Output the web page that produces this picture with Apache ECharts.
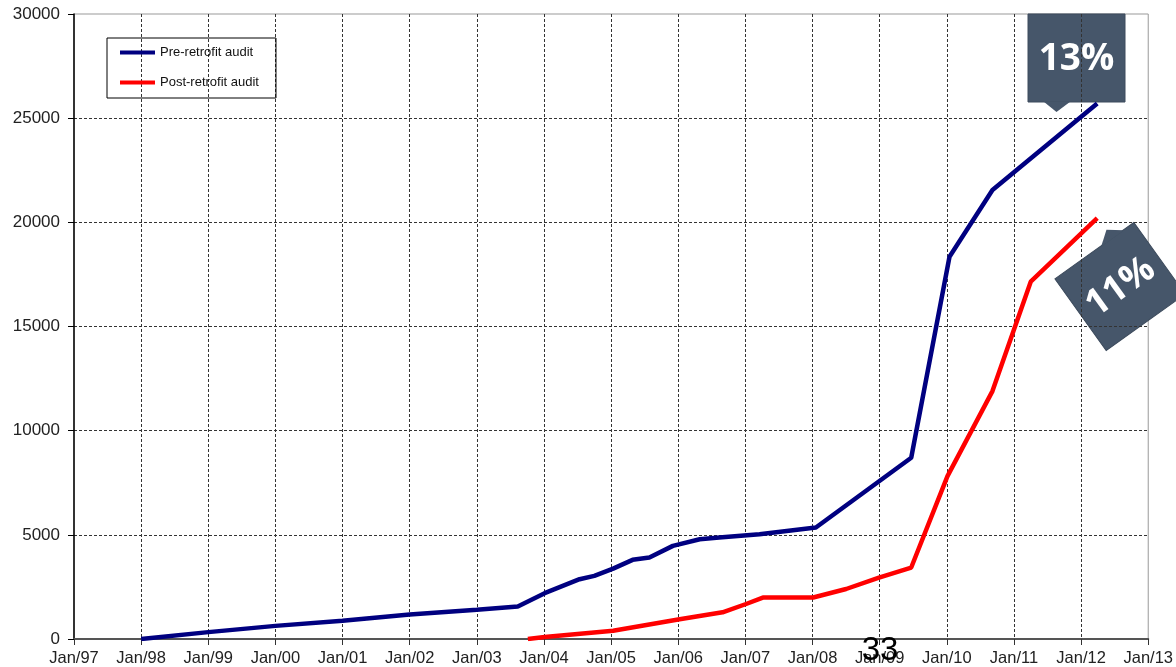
<!DOCTYPE html>
<html>
<head>
<meta charset="utf-8">
<script src="https://cdn.jsdelivr.net/npm/echarts@6/dist/echarts.min.js"></script>
<style>
html,body{margin:0;padding:0;background:#fff;}
#chart{width:1176px;height:667px;}
</style>
</head>
<body>
<div id="chart"></div>
<script>
// ---- data (x = decimal year, y = value) ----
const yearTicks = ['Jan/97','Jan/98','Jan/99','Jan/00','Jan/01','Jan/02','Jan/03','Jan/04','Jan/05','Jan/06','Jan/07','Jan/08','Jan/09','Jan/10','Jan/11','Jan/12','Jan/13'];
const seriesNames = ['Pre-retrofit audit', 'Post-retrofit audit'];

const preX = [1998.00, 1999.00, 2000.00, 2001.00, 2002.00, 2003.00, 2003.61, 2004.01, 2004.53, 2004.75, 2005.03, 2005.32, 2005.57, 2005.92, 2006.32, 2006.61, 2007.21, 2008.05, 2009.47, 2010.04, 2010.68, 2012.24];
const preY = [0, 330, 630, 880, 1180, 1400, 1560, 2200, 2870, 3030, 3380, 3800, 3910, 4470, 4790, 4870, 5030, 5350, 8700, 18350, 21550, 25700];

const postX = [2003.76, 2004.01, 2005.03, 2006.02, 2006.66, 2007.01, 2007.26, 2008.01, 2008.50, 2008.99, 2009.47, 2010.01, 2010.68, 2011.25, 2012.24];
const postY = [0, 100, 400, 950, 1280, 1680, 1990, 1990, 2400, 2950, 3430, 7820, 11900, 17150, 20200];

const calloutTexts = ['13%', '11%'];
const pageNumber = '33';

// ---- chart ----
const zip = (xs, ys) => xs.map((x, i) => [x, ys[i]]);
const chart = echarts.init(document.getElementById('chart'), null, {renderer: 'canvas'});
const FONT = '"Liberation Sans", Arial, sans-serif';
const gridDash = {color: '#333', width: 1, type: [3, 2]};

const calloutFill = '#46566a';

chart.setOption({
  backgroundColor: '#ffffff',
  animation: false,
  grid: {left: 74, right: 27, top: 14, bottom: 27, show: true, borderColor: '#999', borderWidth: 1, backgroundColor: 'transparent'},
  legend: {
    left: 107, top: 38, orient: 'vertical',
    borderColor: '#000', borderWidth: 1,
    padding: [8, 17, 9, 13],
    itemGap: 17, itemWidth: 35, itemHeight: 4, icon: 'rect',
    textStyle: {fontFamily: FONT, fontSize: 13, color: '#111'},
    data: seriesNames
  },
  xAxis: {
    type: 'value', min: 1997, max: 2013, interval: 1,
    axisLine: {show: true, lineStyle: {color: '#555', width: 2}},
    axisTick: {show: true, length: 6, lineStyle: {color: '#333'}},
    axisLabel: {
      margin: 11, fontFamily: FONT, fontSize: 16.5, color: '#222',
      formatter: v => yearTicks[Math.round(v - 1997)]
    },
    splitLine: {show: true, lineStyle: gridDash, showMinLine: false, showMaxLine: false}
  },
  yAxis: {
    type: 'value', min: 0, max: 30000, interval: 5000,
    axisLine: {show: true, lineStyle: {color: '#000', width: 1.5}},
    axisTick: {show: true, length: 6, lineStyle: {color: '#000'}},
    axisLabel: {margin: 14, fontFamily: FONT, fontSize: 17, color: '#222', formatter: v => String(v)},
    splitLine: {show: true, lineStyle: gridDash, showMinLine: false, showMaxLine: false}
  },
  series: [
    {name: seriesNames[0], type: 'line', data: zip(preX, preY), showSymbol: false, symbol: 'none',
     lineStyle: {color: '#000080', width: 4.5}, itemStyle: {color: '#000080'}, z: 3},
    {name: seriesNames[1], type: 'line', data: zip(postX, postY), showSymbol: false, symbol: 'none',
     lineStyle: {color: '#ff0000', width: 4.5}, itemStyle: {color: '#ff0000'}, z: 4}
  ],
  graphic: [
    {
      type: 'group', x: 1076.5, y: 58, z: 100,
      children: [
        {type: 'rect', shape: {x: -48.5, y: -44, width: 97, height: 88}, style: {fill: calloutFill, stroke: '#3c4a5c', lineWidth: 1}},
        {type: 'polygon', shape: {points: [[-33, 43.5], [-6, 43.5], [-20, 54]]}, style: {fill: calloutFill}},
        {type: 'text', x: 0, y: 1, style: {text: calloutTexts[0], fill: '#fff', font: 'bold 37px "Open Sans", sans-serif', textAlign: 'center', textVerticalAlign: 'middle'}}
      ]
    },
    {
      type: 'group', x: 1120, y: 286.5, rotation: 35.6 * Math.PI / 180, z: 100,
      children: [
        {type: 'rect', shape: {x: -48.5, y: -44, width: 97, height: 88}, style: {fill: calloutFill, stroke: '#3c4a5c', lineWidth: 1}},
        {type: 'polygon', shape: {points: [[8, -43.5], [36, -43.5], [22, -54]]}, style: {fill: calloutFill}},
        {type: 'text', x: 0, y: 1, style: {text: calloutTexts[1], fill: '#fff', font: 'bold 37px "Open Sans", sans-serif', textAlign: 'center', textVerticalAlign: 'middle'}}
      ]
    },
    {
      type: 'text', x: 880, y: 651, z: 100,
      style: {text: pageNumber, fill: '#000', font: '33px "Liberation Sans", Arial, sans-serif', textAlign: 'center', textVerticalAlign: 'middle'}
    }
  ]
});
</script>
</body>
</html>
